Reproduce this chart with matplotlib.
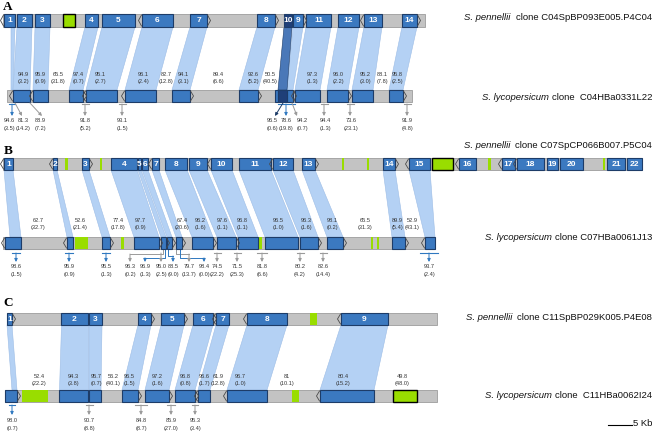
import matplotlib.pyplot as plt
from matplotlib.patches import Rectangle, Polygon

plt.rcParams['font.family'] = ['Liberation Sans', 'DejaVu Sans']

# x values are map units along each clone; 24 units = 5 kb (see scale bar)
KB5 = 24

# ---------------- panel A ----------------
# genes: start, end, name, strand mark (-1 = '(' at start, 1 = ')' at end, 0 = none)
A_top_genes = [(4, 15, "1", -1), (17, 32, "2", 0), (35, 50, "3", 0), (85, 98, "4", 0),
               (102, 135, "5", 0), (142, 173, "6", -1), (190, 207, "7", 1), (257, 275, "8", 1),
               (293, 303, "9", 1), (306, 331, "11", 0), (338, 359, "12", 0), (364, 382, "13", -1),
               (402, 417, "14", 1)]
A_top_dark = [(284, 292, "10")]
A_top_green = [(63, 75, True)]
A_top_span = (3, 425)

A_bot_genes = [(13, 30, "", -1), (33, 48, "", -1), (69, 83, "", 1), (86, 117, "", -1),
               (125, 156, "", -1), (172, 190, "", 1), (239, 258, "", 1), (275, 278, "", 0),
               (287, 293, "", 1), (295, 320, "", -1), (327, 348, "", 1), (352, 373, "", 0),
               (389, 403, "", 1)]
A_bot_dark = [(278, 287, "")]
A_bot_green = []
A_bot_span = (7, 412)

# links: top start, top end, bottom start, bottom end
A_links = [(11, 15, 11, 13), (17, 32, 13, 30), (35, 50, 33, 48), (85, 98, 69, 83),
           (102, 135, 86, 117), (142, 173, 125, 156), (190, 207, 172, 190), (257, 275, 239, 258),
           (293, 303, 287, 293), (306, 331, 295, 320), (338, 359, 327, 348), (364, 382, 352, 373),
           (402, 417, 389, 403)]
A_links_dark = [(284, 292, 278, 287)]

A_ident_x = [23, 40, 58, 78, 100, 143, 166, 183, 218, 253, 270, 312, 338, 365, 382, 397]
A_ident = ["94.9", "95.9", "65.5", "97.4", "95.1", "96.1", "82.7", "94.1", "89.4", "92.6",
           "50.5", "97.3", "96.0", "95.2", "88.1", "95.8"]
A_div = ["3.2", "0.9", "31.8", "0.7", "2.7", "2.4", "12.8", "3.1", "6.6", "5.2",
         "40.5", "1.3", "2.2", "3.0", "7.8", "2.5"]

# unlinked features:
# tip x, source x, label x, bar width, identity, divergence, colour, elbow level
A_arrows = [(12, 12, 9, 6, "94.6", "3.5", "blue", None),
            (22, 15, 23, 0, "81.3", "14.2", "gray", None),
            (42, 30, 40, 0, "88.9", "7.2", "gray", None),
            (85, 85, 85, 7, "91.8", "5.2", "gray", None),
            (122, 122, 122, 7, "93.1", "1.5", "gray", None),
            (275, 283, 272, 0, "96.5", "0.6", "dark", None),
            (286, 286, 286, 17, "78.6", "19.8", "blue", None),
            (297, 292, 302, 0, "94.2", "0.7", "gray", None),
            (324, 324, 325, 7, "94.4", "1.3", "gray", None),
            (350, 350, 351, 7, "73.6", "23.1", "gray", None),
            (407, 407, 407, 7, "91.9", "4.8", "gray", None)]

# ---------------- panel B ----------------
B_top_genes = [(4, 13, "1", -1), (53, 57, "2", -1), (82, 89, "3", 1), (111, 137, "4", 0),
               (138, 141, "5", 0), (142, 148, "6", 0), (152, 159, "7", -1), (165, 187, "8", 0),
               (189, 207, "9", 0), (211, 232, "10", -1), (239, 271, "11", 0), (273, 293, "12", -1),
               (302, 315, "13", 1), (383, 395, "14", 1), (409, 430, "15", -1), (459, 476, "16", -1),
               (502, 515, "17", -1), (517, 544, "18", -1), (547, 558, "19", 0), (560, 583, "20", 0),
               (607, 625, "21", 0), (627, 642, "22", 0)]
B_top_dark = []
B_top_green = [(65, 68, False), (100, 102, False), (342, 344, False), (367, 369, False),
               (432, 453, True), (488, 491, False), (534, 536, False), (603, 605, False)]
B_top_span = (3, 642)

B_bot_genes = [(5, 21, "", -1), (67, 73, "", -1), (102, 110, "", 1), (134, 159, "", 1),
               (161, 166, "", 1), (167, 172, "", 1), (176, 182, "", 1), (192, 213, "", 1),
               (217, 236, "", 1), (238, 258, "", 0), (265, 298, "", 0), (300, 318, "", 1),
               (327, 343, "", 1), (392, 405, "", 1), (425, 435, "", -1)]
B_bot_dark = []
B_bot_green = [(75, 88, False), (121, 124, False), (259, 262, False), (371, 373, False),
               (377, 379, False)]
B_bot_span = (3, 435)

B_links = [(4, 13, 10, 21), (53, 57, 67, 73), (82, 89, 102, 110), (111, 137, 134, 159),
           (138, 141, 161, 166), (142, 148, 167, 172), (152, 159, 176, 182), (165, 187, 192, 213),
           (189, 207, 217, 236), (211, 232, 238, 258), (239, 271, 265, 298), (273, 293, 300, 318),
           (302, 315, 327, 343), (383, 395, 392, 405), (409, 430, 425, 435)]
B_links_dark = []

B_ident_x = [38, 80, 118, 140, 182, 200, 222, 242, 278, 306, 332, 365, 397, 412]
B_ident = ["62.7", "52.6", "77.4", "97.7", "67.4", "96.2", "97.6", "96.8", "96.5", "96.3",
           "98.1", "65.5", "89.9", "52.9"]
B_div = ["32.7", "21.4", "17.8", "0.9", "20.6", "1.6", "1.1", "1.1", "1.0", "1.6",
         "0.2", "31.3", "5.4", "43.1"]

B_arrows = [(16, 16, 16, 8, "98.6", "1.5", "blue", None),
            (69, 69, 69, 8, "95.9", "0.9", "blue", None),
            (106, 106, 106, 8, "95.5", "1.3", "blue", None),
            (130, 163, 130, 0, "96.3", "0.2", "gray", 0),
            (145, 165, 145, 0, "96.9", "1.3", "blue", 2),
            (161, 161, 161, 0, "95.0", "2.5", "gray", None),
            (173, 168, 173, 0, "88.5", "9.0", "blue", 1),
            (189, 176, 189, 0, "79.7", "13.7", "gray", 0),
            (204, 180, 204, 0, "98.4", "0.0", "blue", 2),
            (217, 217, 217, 7, "74.5", "22.2", "gray", None),
            (237, 237, 237, 7, "71.5", "25.3", "gray", None),
            (262, 262, 262, 10, "81.8", "6.6", "gray", None),
            (300, 300, 300, 7, "80.2", "4.2", "gray", None),
            (323, 323, 323, 7, "82.6", "14.4", "gray", None),
            (429, 429, 429, 18, "93.7", "2.4", "blue", None)]

# ---------------- panel C ----------------
C_top_genes = [(7, 12, "1", 1), (61, 88, "2", 0), (89, 102, "3", 0), (138, 151, "4", 1),
               (161, 184, "5", 1), (193, 213, "6", 1), (216, 229, "7", -1), (247, 287, "8", -1),
               (341, 388, "9", -1)]
C_top_dark = []
C_top_green = [(310, 317, False)]
C_top_span = (7, 437)

C_bot_genes = [(5, 17, "", 1), (59, 88, "", 0), (89, 101, "", 0), (122, 138, "", 1),
               (145, 169, "", 1), (175, 195, "", 1), (198, 210, "", -1), (227, 267, "", -1),
               (320, 374, "", -1)]
C_bot_dark = []
C_bot_green = [(22, 48, False), (292, 299, False), (393, 417, True)]
C_bot_span = (5, 437)

C_links = [(7, 12, 12, 17), (61, 88, 59, 88), (89, 102, 89, 101), (138, 151, 122, 138),
           (161, 184, 145, 169), (193, 213, 175, 195), (216, 229, 198, 210), (247, 287, 227, 267),
           (341, 388, 320, 374)]
C_links_dark = []

C_ident_x = [39, 73, 96, 113, 129, 157, 185, 204, 218, 240, 287, 343, 402]
C_ident = ["52.4", "94.3", "95.7", "56.2", "96.5", "97.2", "96.8", "96.6", "61.9", "96.7",
           "81", "80.4", "49.8"]
C_div = ["22.2", "3.8", "0.7", "40.1", "1.5", "1.6", "0.8", "1.7", "12.8", "1.0",
         "10.1", "15.2", "48.0"]

C_arrows = [(12, 12, 12, 6, "98.0", "0.7", "blue", None),
            (89, 89, 89, 7, "90.7", "8.8", "gray", None),
            (141, 141, 141, 12, "84.8", "8.7", "gray", None),
            (171, 171, 171, 8, "85.9", "27.0", "gray", None),
            (195, 195, 195, 6, "95.3", "3.4", "gray", None)]

# clone names: (italic species, rest, gap)
A_names = [("S. pennellii", "clone C04SpBP093E005.P4C04", 5), ("S. lycopersicum", "clone  C04HBa0331L22", 3)]
B_names = [("S. pennellii", "clone C07SpCP066B007.P5C04", 5), ("S. lycopersicum", "clone C07HBa0061J13", 3)]
C_names = [("S. pennellii", "clone C11SpBP029K005.P4E08", 5), ("S. lycopersicum", "clone  C11HBa0062I24", 3)]

# colours
GRAY = "#c3c3c3"
GRAY_EDGE = "#9c9c9c"
BLUE = "#3b79c0"
NAVY = "#1d3c68"
DARK = "#1f3f78"
LIGHT = "#b4d1f4"
LIGHT_EDGE = "#9dbde6"
GREEN = "#99dd00"
TEXT = "#333333"
ARROW_COL = {"gray": "#9a9a9a", "blue": "#2f78c0", "dark": "#1d3c68"}

fig = plt.figure(figsize=(6.61, 4.34), dpi=100)
ax = fig.add_axes([0, 0, 1, 1])
ax.set_xlim(0, 661)
ax.set_ylim(434, 0)
ax.axis("off")


def chevron(x, y0, y1, d):
    m = (y0 + y1) / 2
    ax.plot([x, x + 3 * d, x], [y0 + 1, m, y1 - 1], color="#4a4a4a", lw=0.6, zorder=5,
            solid_joinstyle="miter")


def draw_track(span, genes, dark, green, y0, y1):
    h = y1 - y0
    ax.add_patch(Rectangle((span[0], y0), span[1] - span[0], h, fc=GRAY, ec=GRAY_EDGE,
                           lw=0.6, zorder=2))
    for s, e, border in green:
        ax.add_patch(Rectangle((s, y0), e - s, h, fc=GREEN, ec="black" if border else GREEN,
                               lw=1.0 if border else 0, zorder=3))
    for s, e, name, d in genes:
        ax.add_patch(Rectangle((s, y0), e - s, h, fc=BLUE, ec=NAVY, lw=0.8, zorder=3))
        if name:
            ax.text((s + e) / 2, (y0 + y1) / 2 + 0.5, name, color="white", fontsize=6,
                    fontweight="bold", ha="center", va="center", zorder=6)
        if d == 1:
            chevron(e + 0.5, y0, y1, 1)
        elif d == -1:
            chevron(s - 0.5, y0, y1, -1)
    for s, e, name in dark:
        ax.add_patch(Rectangle((s, y0), e - s, h, fc=DARK, ec=NAVY, lw=0.8, zorder=3))
        if name:
            ax.text((s + e) / 2, (y0 + y1) / 2 + 0.5, name, color="white", fontsize=6,
                    fontweight="bold", ha="center", va="center", zorder=6)


def draw_links(links, ytop, ybot, fc, ec):
    for ts, te, bs, be in links:
        ax.add_patch(Polygon([(ts, ytop), (te, ytop), (be, ybot), (bs, ybot)], closed=True,
                             fc=fc, ec=ec, lw=0.4, zorder=1))


def two_line(x, y, a, b):
    ax.text(x, y, a, fontsize=4.1, color=TEXT, ha="center", va="center", zorder=7)
    ax.text(x, y + 7.5, "(" + b + ")", fontsize=4.1, color=TEXT, ha="center", va="center",
            zorder=7)


def draw_arrows(arrows, ybot, tbar, tip, lab_y, elbow_y):
    for tx, fx, lx, bw, ident, div, col, lev in arrows:
        c = ARROW_COL[col]
        props = dict(arrowstyle="-|>", color=c, lw=0.7, mutation_scale=4.5,
                     shrinkA=0, shrinkB=0)
        if lev is not None:
            ey = elbow_y[lev]
            ax.plot([fx, fx, tx], [ybot, ey, ey], color=c, lw=0.7)
            ax.annotate("", xy=(tx, tip), xytext=(tx, ey), arrowprops=props)
        elif fx == tx:
            if bw:
                ax.plot([tx - bw / 2, tx + bw / 2], [tbar, tbar], color=c, lw=0.8)
            ax.annotate("", xy=(tx, tip), xytext=(tx, tbar), arrowprops=props)
        else:
            ax.annotate("", xy=(tx, tip), xytext=(fx, ybot + 1), arrowprops=props)
        two_line(lx, lab_y, ident, div)


def draw_names(names, ys):
    for (sp, rest, gap), y in zip(names, ys):
        t = ax.text(652, y, rest, fontsize=6.8, ha="right", va="center", color="#111111")
        fig.canvas.draw()
        bb = t.get_window_extent()
        x0 = ax.transData.inverted().transform((bb.x0, bb.y0))[0]
        ax.text(x0 - gap, y, sp, fontsize=6.8, style="italic", ha="right", va="center",
                color="#111111")


panels = [
    ("A", 7, A_top_genes, A_top_dark, A_top_green, A_top_span, A_bot_genes, A_bot_dark,
     A_bot_green, A_bot_span, A_links, A_links_dark, A_ident_x, A_ident, A_div, A_arrows,
     A_names, dict(top=(14, 27), bot=(90, 102), lab=74.5, tbar=104, tip=116, alab=121,
                   elbow=(0, 0, 0), names=(17, 97))),
    ("B", 151, B_top_genes, B_top_dark, B_top_green, B_top_span, B_bot_genes, B_bot_dark,
     B_bot_green, B_bot_span, B_links, B_links_dark, B_ident_x, B_ident, B_div, B_arrows,
     B_names, dict(top=(158, 170), bot=(237, 249), lab=220, tbar=253, tip=262, alab=267,
                   elbow=(254, 256, 258), names=(145, 238))),
    ("C", 303, C_top_genes, C_top_dark, C_top_green, C_top_span, C_bot_genes, C_bot_dark,
     C_bot_green, C_bot_span, C_links, C_links_dark, C_ident_x, C_ident, C_div, C_arrows,
     C_names, dict(top=(313, 325), bot=(390, 402), lab=376, tbar=405, tip=415, alab=421,
                   elbow=(0, 0, 0), names=(318, 396))),
]

for (letter, ly, tg, td, tgr, tsp, bg, bd, bgr, bsp, links, links_dark, ix, ident, div,
     arrows, names, L) in panels:
    ax.text(8, ly, letter, fontsize=9.5, fontweight="bold", family="Liberation Serif",
            ha="center", va="center")
    draw_links(links, L["top"][1], L["bot"][0], LIGHT, LIGHT_EDGE)
    draw_links(links_dark, L["top"][1], L["bot"][0], "#4a78b8", NAVY)
    draw_track(tsp, tg, td, tgr, *L["top"])
    draw_track(bsp, bg, bd, bgr, *L["bot"])
    for x, a, b in zip(ix, ident, div):
        two_line(x, L["lab"], a, b)
    draw_arrows(arrows, L["bot"][1], L["tbar"], L["tip"], L["alab"], L["elbow"])
    draw_names(names, L["names"])

# scale bar
ax.plot([608, 608 + KB5], [425, 425], color="black", lw=0.8)
ax.text(652, 423, "5 Kb", fontsize=6.8, ha="right", va="center", color="#111111")

fig.savefig("out.png", dpi=100)
